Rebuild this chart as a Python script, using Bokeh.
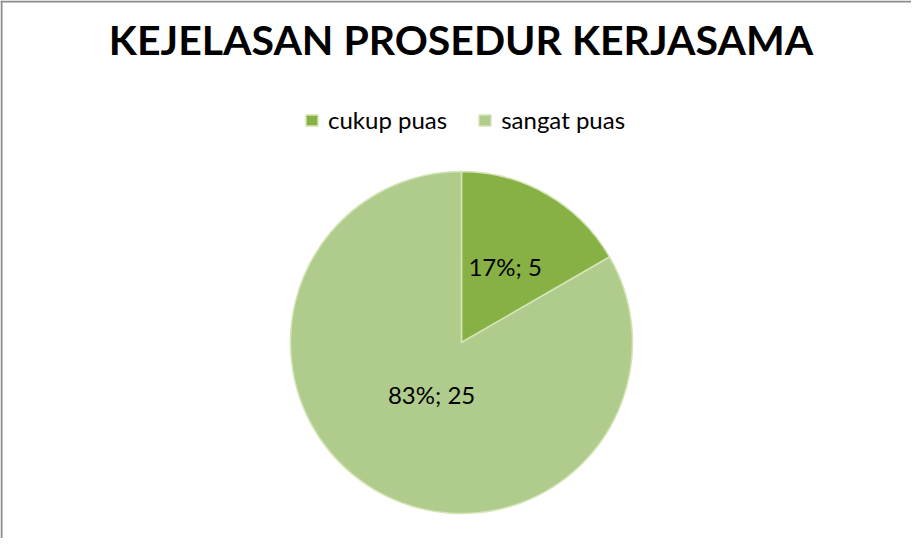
import numpy as np
from bokeh.plotting import figure
from bokeh.models import ColumnDataSource, Range1d, Legend, LegendItem, Span
from bokeh.core.properties import value
from bokeh.embed import file_html
from bokeh.resources import INLINE

# ---- data ----
title_text = "KEJELASAN PROSEDUR KERJASAMA"
categories = ["cukup puas", "sangat puas"]
counts = [5, 25]
colors = ["#88B145", "#B0CC8C"]

# ---- layout helpers (screen px of reference -> data units) ----
W, H = 911, 538
OX, OY = 8, 8


def sx(x):
    return x - OX


def sy(y):
    return (OY + H) - y


p = figure(width=W, height=H, output_backend="svg", toolbar_location=None,
           x_range=Range1d(0, W), y_range=Range1d(0, H), min_border=0)
p.axis.visible = False
p.grid.visible = False
p.outline_line_color = None
p.background_fill_color = "white"
p.border_fill_color = "white"

# chart border (top and left visible)
p.add_layout(Span(location=1, dimension="height", line_color="#8C8C8C", line_width=2))
p.add_layout(Span(location=H - 1, dimension="width", line_color="#8C8C8C", line_width=2))

total = sum(counts)
fr = np.array(counts, dtype=float) / total
cum_end = np.cumsum(fr)
cum_start = cum_end - fr
start_angle = np.pi / 2 - 2 * np.pi * cum_start
end_angle = np.pi / 2 - 2 * np.pi * cum_end

cx, cy, R = sx(469), sy(350), 171

src = ColumnDataSource(dict(cat=categories, count=counts, start=start_angle,
                            end=end_angle, color=colors))
wr = p.wedge(x=cx, y=cy, radius=R, start_angle="start", end_angle="end",
             direction="clock", fill_color="color", line_color="#D3E5B6",
             line_width=1.5, source=src)

# data labels
mid = (start_angle + end_angle) / 2
label_r = np.array([0.51, 0.35])
lx = cx + R * label_r * np.cos(mid)
ly = cy + R * label_r * np.sin(mid)
ltxt = [f"{round(f * 100)}%; {c}" for f, c in zip(fr, counts)]
p.text(x=lx, y=ly, text=ltxt, text_align="center", text_baseline="middle",
       text_font=value("Lato"), text_font_size="24px", text_color="#000000")

# title
p.text(x=[sx(468.5)], y=[sy(47)], text=[title_text], text_align="center",
       text_baseline="middle", text_font=value("Lato"), text_font_size="41px",
       text_font_style="bold", text_color="#000000")

legend = Legend(items=[LegendItem(label=c, renderers=[wr], index=i)
                       for i, c in enumerate(categories)],
                orientation="horizontal", location=(sx(312), sy(142)),
                glyph_width=15, glyph_height=14, label_standoff=9, spacing=30,
                padding=0, margin=0, border_line_color=None,
                background_fill_alpha=0, label_text_font="Lato",
                label_text_font_size="24px", label_text_color="#000000")
p.add_layout(legend)

open("out.html", "w").write(file_html(p, INLINE))
